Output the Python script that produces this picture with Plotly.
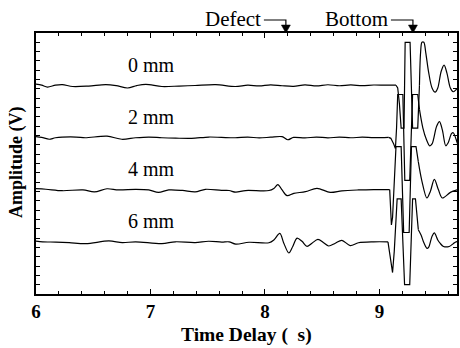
import plotly.graph_objects as go

labels = ["0 mm", "2 mm", "4 mm", "6 mm"]
offsets = [2.24, 1.68, 1.12, 0.56]

t_0mm = [6.00, 6.05, 6.10, 6.17, 6.23, 6.32, 6.46, 6.61, 6.70, 6.80, 6.88, 6.96, 7.10, 7.25, 7.39,
         7.57, 7.74, 7.85, 7.95, 8.05, 8.15, 8.25, 8.35, 8.45, 8.55, 8.65, 8.75, 8.85, 8.95, 9.05,
         9.145, 9.16, 9.175, 9.19, 9.215, 9.225, 9.268, 9.28, 9.29, 9.335, 9.35, 9.36, 9.372, 9.388,
         9.405, 9.43, 9.46, 9.487, 9.51, 9.54, 9.565, 9.59, 9.62, 9.645, 9.668, 9.69]
a_0mm = [0.011, 0.0, -0.02, 0.0, 0.006, -0.014, -0.009, 0.006, -0.005, -0.03, -0.004, 0.009, -0.014,
         -0.009, -0.003, 0.006, -0.014, 0.0, -0.008, 0.004, -0.006, -0.012, 0.003, -0.008, 0.005, -0.006,
         0.003, -0.005, 0.002, 0.0,
         0.0, -0.03, -0.2, -0.46, -0.46, 0.46, 0.46, 0.0, -0.46, -0.46, 0.0, 0.35, 0.46, 0.46,
         0.35, 0.14, -0.03, -0.075, -0.03, 0.15, 0.215, 0.13, -0.03, -0.07, -0.05, -0.02]

t_2mm = [6.00, 6.05, 6.116, 6.17, 6.35, 6.43, 6.62, 6.75, 6.87, 6.985, 7.10, 7.22, 7.36, 7.51, 7.62,
         7.74, 7.85, 7.95, 8.05, 8.15, 8.20, 8.25, 8.35, 8.45, 8.55, 8.65, 8.75, 8.85, 8.95, 9.08,
         9.10, 9.125, 9.14, 9.15, 9.16, 9.205, 9.222, 9.265, 9.278, 9.29, 9.335, 9.35, 9.38, 9.41,
         9.44, 9.46, 9.50, 9.525, 9.55, 9.58, 9.60, 9.63, 9.645, 9.67, 9.69]
a_2mm = [0.008, 0.0, -0.02, -0.004, 0.004, -0.004, 0.014, -0.02, -0.004, 0.004, -0.004, -0.008, -0.01,
         0.004, 0.0, -0.004, 0.003, -0.005, 0.002, 0.008, -0.025, 0.0, -0.006, 0.004, -0.005, 0.003,
         -0.004, 0.002, -0.003, 0.0,
         -0.01, -0.07, -0.12, 0.1, 0.46, 0.46, -0.46, -0.46, 0.0, 0.46, 0.46, 0.3, 0.1, -0.02,
         -0.09, -0.07, 0.12, 0.17, 0.08, -0.09, -0.06, 0.04, 0.05, -0.02, -0.1]

t_4mm = [6.00, 6.087, 6.23, 6.41, 6.51, 6.62, 6.72, 6.87, 6.985, 7.07, 7.16, 7.28, 7.39, 7.48, 7.62,
         7.687, 7.745, 7.83, 8.035, 8.078, 8.113, 8.15, 8.194, 8.252, 8.354, 8.455, 8.571, 8.672,
         8.817, 8.95, 9.09,
         9.10, 9.105, 9.115, 9.13, 9.145, 9.19, 9.205, 9.212, 9.26, 9.27, 9.28, 9.32, 9.34, 9.37,
         9.415, 9.445, 9.48, 9.515, 9.55, 9.62, 9.69]
a_4mm = [0.01, 0.004, -0.012, -0.003, -0.025, 0.009, -0.003, 0.003, -0.003, -0.03, -0.003, -0.009, -0.025,
         0.003, -0.009, -0.01, -0.028, -0.01, -0.01, 0.013, 0.054, -0.004, -0.065, -0.04, -0.022,
         0.013, -0.03, -0.013, -0.004, 0.0, 0.0,
         -0.2, -0.38, -0.3, 0.1, 0.46, 0.46, -0.1, -0.46, -0.46, 0.0, 0.46, 0.46, 0.3, 0.1,
         -0.09, -0.02, 0.11, 0.0, -0.09, -0.03, 0.0]

t_6mm = [6.00, 6.058, 6.174, 6.29, 6.435, 6.637, 6.754, 6.87, 7.10, 7.217, 7.39, 7.507, 7.623, 7.687,
         7.745, 7.861, 8.035, 8.078, 8.13, 8.165, 8.209, 8.243, 8.281, 8.324, 8.368, 8.411, 8.463,
         8.513, 8.557, 8.615, 8.672, 8.745, 8.817, 8.95, 9.075,
         9.095, 9.115, 9.13, 9.145, 9.155, 9.19, 9.21, 9.22, 9.265, 9.278, 9.29, 9.315, 9.34, 9.365,
         9.385, 9.415, 9.43, 9.46, 9.48, 9.51, 9.53, 9.56, 9.61, 9.645, 9.67, 9.69]
a_6mm = [0.008, 0.0, -0.003, -0.009, -0.02, 0.009, -0.009, 0.0, -0.02, 0.0, -0.009, 0.006, -0.003, 0.0,
         -0.025, -0.005, -0.01, 0.02, 0.09, -0.015, -0.12, -0.05, 0.04, 0.005, -0.05, -0.015, 0.025,
         -0.01, -0.045, -0.015, 0.015, -0.04, -0.01, 0.0, 0.0,
         -0.15, -0.33, -0.1, 0.3, 0.46, 0.46, -0.2, -0.46, -0.46, 0.0, 0.46, 0.46, 0.13, 0.07,
         0.0, -0.07, -0.06, 0.06, 0.095, 0.02, -0.015, -0.05, -0.05, -0.02, 0.0, 0.0]

# time window of each trace where the clipped (saturated) part is drawn with straight segments
clip_window = [(9.145, 9.35), (9.08, 9.35), (9.09, 9.34), (9.075, 9.34)]

times = [t_0mm, t_2mm, t_4mm, t_6mm]
amps = [a_0mm, a_2mm, a_4mm, a_6mm]

x_ticks = [6, 7, 8, 9]
defect_t = 8.183
bottom_t = 9.293

SERIF = "Liberation Serif, Times New Roman, serif"

fig = go.Figure()
for lab, off, t, a, (c0, c1) in zip(labels, offsets, times, amps, clip_window):
    y = [off + v for v in a]
    parts = [
        ([ti for ti in t if ti <= c0], [yi for ti, yi in zip(t, y) if ti <= c0], "spline"),
        ([ti for ti in t if c0 <= ti <= c1], [yi for ti, yi in zip(t, y) if c0 <= ti <= c1], "linear"),
        ([ti for ti in t if ti >= c1], [yi for ti, yi in zip(t, y) if ti >= c1], "spline"),
    ]
    for px_, py_, shp in parts:
        fig.add_trace(go.Scatter(x=px_, y=py_, mode="lines", name=lab,
                                 line=dict(color="black", width=1.2, shape=shp, smoothing=0.9),
                                 showlegend=False, hoverinfo="skip"))

annotations = []
for lab, off in zip(labels, offsets):
    annotations.append(dict(x=7.005, y=off + 0.22, xref="x", yref="y", text=lab, showarrow=False,
                            font=dict(family=SERIF, size=20, color="black")))

for name, tt in (("Defect", defect_t), ("Bottom", bottom_t)):
    annotations.append(dict(x=tt, y=1, xref="x", yref="paper", text=name, showarrow=False,
                            xanchor="right", yanchor="middle", xshift=-23, yshift=14,
                            font=dict(family=SERIF, size=21, color="black")))

annotations.append(dict(x=0.501, y=0, xref="paper", yref="paper", text="<b>Time Delay (\u00a0\u00a0s)</b>",
                        showarrow=False, xanchor="center", yanchor="middle", yshift=-41,
                        font=dict(family=SERIF, size=19.5, color="black")))
annotations.append(dict(x=0, y=0.506, xref="paper", yref="paper", text="<b>Amplitude (V)</b>",
                        showarrow=False, xanchor="center", yanchor="middle", xshift=-19,
                        textangle=-90, font=dict(family=SERIF, size=18, color="black")))

shapes = []
for tt in (defect_t, bottom_t):
    shapes.append(dict(type="path", xref="x", yref="paper", xsizemode="pixel", ysizemode="pixel",
                       xanchor=tt, yanchor=1, path="M -22,13 L 0,13 L 0,8",
                       line=dict(color="black", width=1.2)))
    shapes.append(dict(type="path", xref="x", yref="paper", xsizemode="pixel", ysizemode="pixel",
                       xanchor=tt, yanchor=1, path="M -4.5,8 L 4.5,8 L 0,0 Z",
                       fillcolor="black", line=dict(color="black", width=0.5)))

fig.update_layout(
    width=460, height=348,
    margin=dict(l=36, r=1, t=33, b=54),
    paper_bgcolor="white", plot_bgcolor="white",
    annotations=annotations, shapes=shapes,
    xaxis=dict(range=[6, 9.678], tickvals=x_ticks, ticktext=[str(v) for v in x_ticks],
               ticks="inside", ticklen=5, tickwidth=1, tickcolor="black",
               minor=dict(dtick=0.2, ticks="inside", ticklen=3, tickcolor="black", tickwidth=1),
               showline=True, linecolor="black", linewidth=1.5, mirror="ticks",
               showgrid=False, zeroline=False, ticklabelstandoff=-1,
               tickfont=dict(family=SERIF, size=19, color="black", weight="bold")),
    yaxis=dict(range=[0, 2.8], dtick=0.1, ticks="inside", ticklen=4, tickwidth=1, tickcolor="black",
               showticklabels=False, showline=True, linecolor="black", linewidth=1.5, mirror="ticks",
               showgrid=False, zeroline=False),
)

fig.write_html("out.html", post_script="document.body.style.margin='0px';",
               config={"displayModeBar": False})
